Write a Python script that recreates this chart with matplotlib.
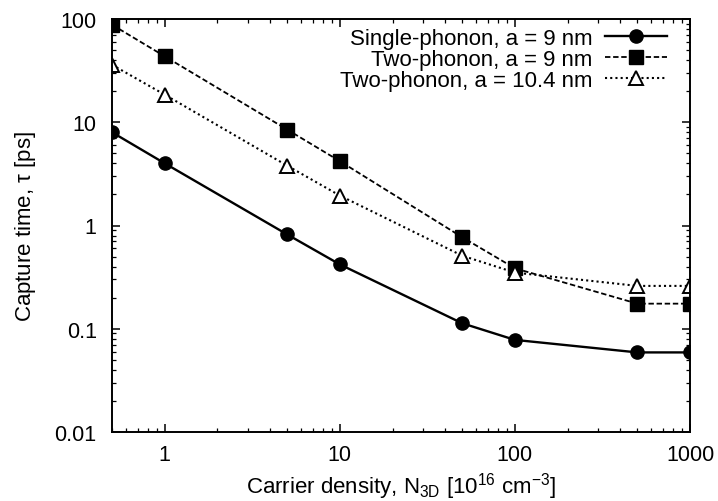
import matplotlib
matplotlib.use("Agg")
import matplotlib.pyplot as plt
from matplotlib.ticker import LogLocator, FixedLocator, NullFormatter, FixedFormatter

plt.rcParams['font.family'] = ['Liberation Sans', 'DejaVu Sans']

density = [0.5, 1, 5, 10, 50, 100, 500, 1000]
single_9 = [8.0, 4.0, 0.82, 0.42, 0.113, 0.078, 0.059, 0.059]
two_9 = [88, 43.5, 8.5, 4.2, 0.77, 0.385, 0.175, 0.175]
two_104 = [36, 18.5, 3.8, 1.95, 0.51, 0.35, 0.26, 0.26]

labels = ["Single-phonon, a = 9 nm", "Two-phonon, a = 9 nm", "Two-phonon, a = 10.4 nm"]
xticks = [1, 10, 100, 1000]
xticklabels = ["1", "10", "100", "1000"]
yticks = [0.01, 0.1, 1, 10, 100]
yticklabels = ["0.01", "0.1", "1", "10", "100"]

fig = plt.figure(figsize=(7.18, 5.02), dpi=100)
ax = fig.add_axes([112/718, 1 - 433/502, (690-112)/718, (433-20)/502])

ax.plot(density, single_9, color='black', lw=1.7, ls='-', marker='o', ms=9.5,
        label=labels[0])
ax.plot(density, two_9, color='black', lw=1.3, ls=(0, (3, 1.5)), marker='s', ms=9.5,
        label=labels[1])
ax.plot(density, two_104, color='black', lw=1.5, ls=(0, (1, 1.5)), marker='^', ms=9.5,
        mfc='white', mec='black', mew=1.4, label=labels[2])

ax.set_xscale('log')
ax.set_yscale('log')
ax.set_xlim(0.5, 1000)
ax.set_ylim(0.01, 100)

ax.xaxis.set_major_locator(FixedLocator(xticks))
ax.xaxis.set_major_formatter(FixedFormatter(xticklabels))
ax.yaxis.set_major_locator(FixedLocator(yticks))
ax.yaxis.set_major_formatter(FixedFormatter(yticklabels))
ax.xaxis.set_minor_locator(LogLocator(base=10, subs=range(2, 10)))
ax.yaxis.set_minor_locator(LogLocator(base=10, subs=range(2, 10)))
ax.xaxis.set_minor_formatter(NullFormatter())
ax.yaxis.set_minor_formatter(NullFormatter())

ax.tick_params(which='both', direction='in', top=True, right=True, labelsize=15.5)
ax.tick_params(which='major', length=6, width=1.1)
ax.tick_params(which='minor', length=3, width=0.9)
ax.tick_params(axis='x', pad=9)
ax.tick_params(axis='y', pad=11)
for s in ax.spines.values():
    s.set_linewidth(1.4)

ax.set_xlabel(r"Carrier density, N$_{\mathregular{3D}}$ [10$^{\mathregular{16}}$ cm$^{\mathregular{-3}}$]",
              fontsize=16, labelpad=3)
ax.set_ylabel(r"Capture time, $\mathregular{\tau}$ [ps]", fontsize=16, labelpad=12)

leg = ax.legend(loc='upper right', frameon=False, markerfirst=False, fontsize=16,
                handlelength=2.8, handletextpad=0.55, labelspacing=0.0,
                borderaxespad=0.0, borderpad=0.0, bbox_to_anchor=(0.96, 0.978))
for t in leg.get_texts():
    t.set_ha('right')
leg._legend_box.align = 'right'

fig.savefig("out.png", dpi=100)
